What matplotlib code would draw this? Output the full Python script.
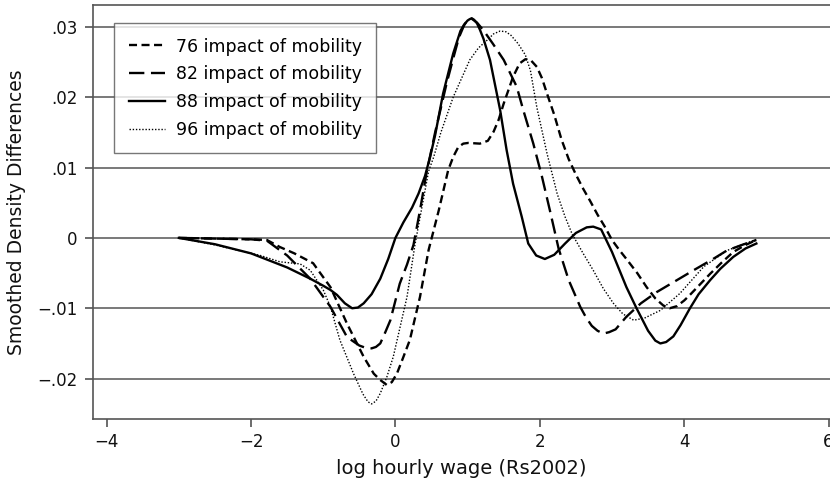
import matplotlib
matplotlib.use('Agg')
import matplotlib.pyplot as plt

# series (x = log hourly wage, y = smoothed density difference)
x76 = [-3.0, -2.5, -2.0, -1.78, -1.6, -1.4, -1.14, -0.9, -0.67, -0.44, -0.3, -0.21, -0.12, -0.05, 0.02,
       0.1, 0.2, 0.34, 0.46, 0.6, 0.73, 0.8, 0.87, 0.94, 1.01, 1.17, 1.28, 1.36, 1.43, 1.5, 1.63, 1.72,
       1.8, 1.88, 1.96, 2.03, 2.1, 2.2, 2.3, 2.4, 2.5, 2.6, 2.7, 2.8, 2.9, 3.0, 3.1, 3.2, 3.35, 3.48,
       3.6, 3.71, 3.8, 3.9, 4.0, 4.08, 4.22, 4.36, 4.52, 4.68, 4.85, 5.0]
y76 = [0.0, -0.0001, -0.0002, -0.0003, -0.0013, -0.0022, -0.0036, -0.0070, -0.0122, -0.0169, -0.0193,
       -0.0202, -0.0209, -0.0205, -0.0193, -0.0172, -0.0145, -0.0084, -0.0017, 0.0039, 0.0096, 0.0115,
       0.0129, 0.0134, 0.0135, 0.0134, 0.0138, 0.0151, 0.0168, 0.0191, 0.0229, 0.0248, 0.0254, 0.0252,
       0.0243, 0.0227, 0.0205, 0.0175, 0.0140, 0.0112, 0.0090, 0.0070, 0.0052, 0.0033, 0.0016, -0.0003,
       -0.0017, -0.0030, -0.0050, -0.0070, -0.0086, -0.0096, -0.0100, -0.0097, -0.0089, -0.0081, -0.0066,
       -0.0051, -0.0035, -0.0020, -0.0010, -0.0003]

x82 = [-3.0, -2.5, -2.0, -1.78, -1.5, -1.18, -0.9, -0.67, -0.5, -0.42, -0.33, -0.27, -0.21, -0.14,
       -0.07, 0.06, 0.16, 0.25, 0.34, 0.43, 0.55, 0.71, 0.8, 0.88, 0.95, 1.0, 1.05, 1.13, 1.22, 1.35, 1.5,
       1.68, 1.77, 1.91, 2.03, 2.14, 2.26, 2.4, 2.56, 2.64, 2.72, 2.8, 2.88, 2.96, 3.05, 3.2, 3.4, 3.62,
       3.9, 4.13, 4.4, 4.59, 4.8, 5.0]
y82 = [0.0, -0.0001, -0.0002, -0.0004, -0.0025, -0.0058, -0.0098, -0.0141, -0.0153, -0.0156, -0.0157,
       -0.0155, -0.0150, -0.0134, -0.0117, -0.0065, -0.0038, -0.0010, 0.0039, 0.0092, 0.0150, 0.0220,
       0.0255, 0.0285, 0.0302, 0.0310, 0.0312, 0.0306, 0.0295, 0.0276, 0.0253, 0.0215, 0.0182, 0.0134,
       0.0087, 0.0039, -0.0015, -0.0060, -0.0098, -0.0113, -0.0125, -0.0132, -0.0136, -0.0134, -0.0130,
       -0.0112, -0.0093, -0.0077, -0.0060, -0.0046, -0.0030, -0.0018, -0.0010, -0.0003]

x88 = [-3.0, -2.5, -2.0, -1.5, -1.18, -1.0, -0.9, -0.81, -0.7, -0.6, -0.52, -0.44, -0.33, -0.21, -0.1,
       0.0, 0.11, 0.23, 0.32, 0.41, 0.48, 0.55, 0.66, 0.8, 0.9, 0.95, 1.0, 1.03, 1.06, 1.09, 1.13, 1.17,
       1.22, 1.31, 1.45, 1.54, 1.63, 1.75, 1.84, 1.95, 2.07, 2.2, 2.35, 2.5, 2.65, 2.74, 2.85, 3.0, 3.1,
       3.2, 3.34, 3.5, 3.6, 3.67, 3.75, 3.85, 3.95, 4.08, 4.2, 4.36, 4.5, 4.68, 4.85, 5.0]
y88 = [0.0, -0.0009, -0.0022, -0.0042, -0.0058, -0.0068, -0.0074, -0.0081, -0.0093, -0.0100, -0.0099,
       -0.0093, -0.0080, -0.0058, -0.0030, 0.0000, 0.0022, 0.0043, 0.0063, 0.0088, 0.0115, 0.0146,
       0.0205, 0.0262, 0.0294, 0.0303, 0.0309, 0.0311, 0.0312, 0.0310, 0.0305, 0.0296, 0.0283, 0.0253,
       0.0182, 0.0125, 0.0077, 0.0030, -0.0008, -0.0025, -0.0030, -0.0024, -0.0008, 0.0007, 0.0015,
       0.0016, 0.0012, -0.0020, -0.0045, -0.0070, -0.0100, -0.0132, -0.0146, -0.0150, -0.0148, -0.0140,
       -0.0124, -0.0100, -0.0080, -0.0060, -0.0044, -0.0027, -0.0015, -0.0008]

x96 = [-3.0, -2.5, -1.87, -1.6, -1.32, -1.18, -1.0, -0.9, -0.77, -0.58, -0.45, -0.38, -0.33, -0.27,
       -0.21, -0.12, -0.03, 0.16, 0.27, 0.46, 0.53, 0.63, 0.8, 1.03, 1.15, 1.27, 1.36, 1.45, 1.53, 1.6,
       1.7, 1.8, 1.87, 1.96, 2.1, 2.24, 2.35, 2.45, 2.6, 2.74, 2.88, 3.02, 3.15, 3.3, 3.45, 3.67, 3.94,
       4.27, 4.59, 5.0]
y96 = [0.0, -0.0010, -0.0025, -0.0034, -0.0037, -0.0046, -0.0074, -0.0098, -0.0145, -0.0193, -0.0222,
       -0.0233, -0.0236, -0.0232, -0.0221, -0.0198, -0.0169, -0.0084, -0.0010, 0.0095, 0.0115, 0.0150,
       0.0200, 0.0253, 0.0270, 0.0281, 0.0290, 0.0294, 0.0293, 0.0288, 0.0276, 0.0260, 0.0238, 0.0185,
       0.0120, 0.0063, 0.0030, 0.0005, -0.0022, -0.0046, -0.0072, -0.0093, -0.0108, -0.0117, -0.0114,
       -0.0103, -0.0079, -0.0041, -0.0018, -0.0002]

labels = ['76 impact of mobility', '82 impact of mobility',
          '88 impact of mobility', '96 impact of mobility']
xticks = [-4, -2, 0, 2, 4, 6]
xtick_labels = ['\u22124', '\u22122', '0', '2', '4', '6']
yticks = [-0.02, -0.01, 0.0, 0.01, 0.02, 0.03]
ytick_labels = ['\u2212.02', '\u2212.01', '0', '.01', '.02', '.03']

plt.rcParams['font.family'] = ['DejaVu Sans']

fig = plt.figure(figsize=(8.3, 4.83), dpi=100)
ax = fig.add_axes([0.1120, 0.1331, 0.8880, 0.8565])

grid_c = '#555555'
for yv in yticks:
    ax.axhline(yv, color=grid_c, lw=1.1, zorder=1)

ax.plot(x76, y76, color='black', lw=1.7, dashes=(3.4, 1.9), label=labels[0], zorder=3)
ax.plot(x82, y82, color='black', lw=1.7, dashes=(6.5, 2.8), label=labels[1], zorder=3)
ax.plot(x88, y88, color='black', lw=1.7, label=labels[2], zorder=3)
ax.plot(x96, y96, color='black', lw=1.0, dashes=(1.0, 1.3), label=labels[3], zorder=3)

ax.set_xlim(-4.19, 6.02)
ax.set_ylim(-0.0257, 0.0331)
ax.set_xticks(xticks)
ax.set_xticklabels(xtick_labels)
ax.set_yticks(yticks)
ax.set_yticklabels(ytick_labels)
ax.tick_params(axis='both', labelsize=12, length=6, width=1.1, color='#444444', labelcolor='#111111')
ax.tick_params(axis='x', pad=4)
ax.tick_params(axis='y', pad=5)

for side in ['left', 'bottom', 'top']:
    ax.spines[side].set_color('#555555')
    ax.spines[side].set_linewidth(1.2)
ax.spines['right'].set_visible(False)

ax.set_xlabel('log hourly wage (Rs2002)', fontsize=14, color='#111111', labelpad=6)
ax.set_ylabel('Smoothed Density Differences', fontsize=13.5, color='#111111', labelpad=8)

leg = ax.legend(loc='upper left', bbox_to_anchor=(0.0285, 0.957), borderaxespad=0,
                fontsize=12.5, frameon=True, fancybox=False, handlelength=2.1,
                handletextpad=0.6, labelspacing=0.56, borderpad=0.85)
leg.get_frame().set_edgecolor('#555555')
leg.get_frame().set_linewidth(1.0)
leg.set_zorder(5)

fig.savefig('out.png', dpi=100, facecolor='white')
